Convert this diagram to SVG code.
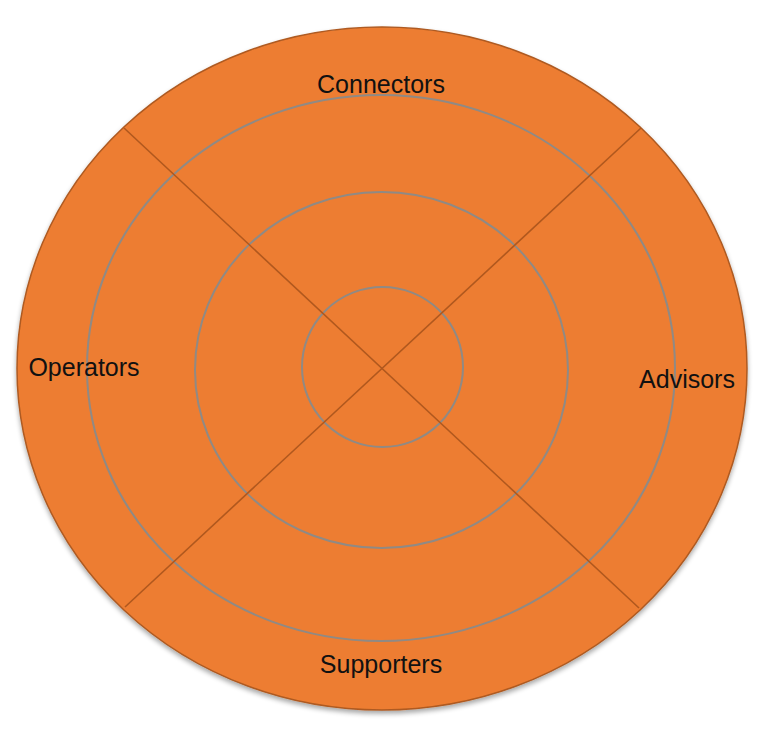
<svg xmlns="http://www.w3.org/2000/svg" width="766" height="744" viewBox="0 0 766 744">
<defs>
<filter id="sh" x="-5%" y="-5%" width="110%" height="112%">
<feGaussianBlur in="SourceAlpha" stdDeviation="2.5"/>
<feOffset dx="0" dy="3" result="b"/>
<feComponentTransfer><feFuncA type="linear" slope="0.35"/></feComponentTransfer>
<feMerge><feMergeNode/><feMergeNode in="SourceGraphic"/></feMerge>
</filter>
</defs>
<style>
.outer{fill:#ED7D31;stroke:#AE5A21;stroke-width:1.5}
.ring{fill:none;stroke:#8F8A85;stroke-width:2}
.div{stroke:#B0581E;stroke-width:1.6;fill:none}
.lbl{font-family:"Liberation Sans",Arial,sans-serif;font-size:25px;fill:#111}
</style>
<rect width="766" height="744" fill="#fff"/>
<g id="disc">
<ellipse class="outer" cx="382" cy="368.5" rx="365" ry="341.5" filter="url(#sh)"/>
</g>
<g id="rings">
<ellipse class="ring" cx="381" cy="368" rx="294" ry="273"/>
<ellipse class="ring" cx="381.5" cy="370" rx="186.5" ry="178"/>
<ellipse class="ring" cx="382.5" cy="367" rx="80.5" ry="80"/>
</g>
<g id="connectors">
<line class="div" x1="124" y1="128" x2="639" y2="608"/>
<line class="div" x1="641" y1="128" x2="125" y2="607"/>
</g>
<g id="connectors-label"><text class="lbl" x="381" y="93" text-anchor="middle">Connectors</text></g>
<g id="supporters-label"><text class="lbl" x="381" y="673" text-anchor="middle">Supporters</text></g>
<g id="operators-label"><text class="lbl" x="84" y="376" text-anchor="middle">Operators</text></g>
<g id="advisors-label"><text class="lbl" x="687" y="388" text-anchor="middle">Advisors</text></g>
</svg>
